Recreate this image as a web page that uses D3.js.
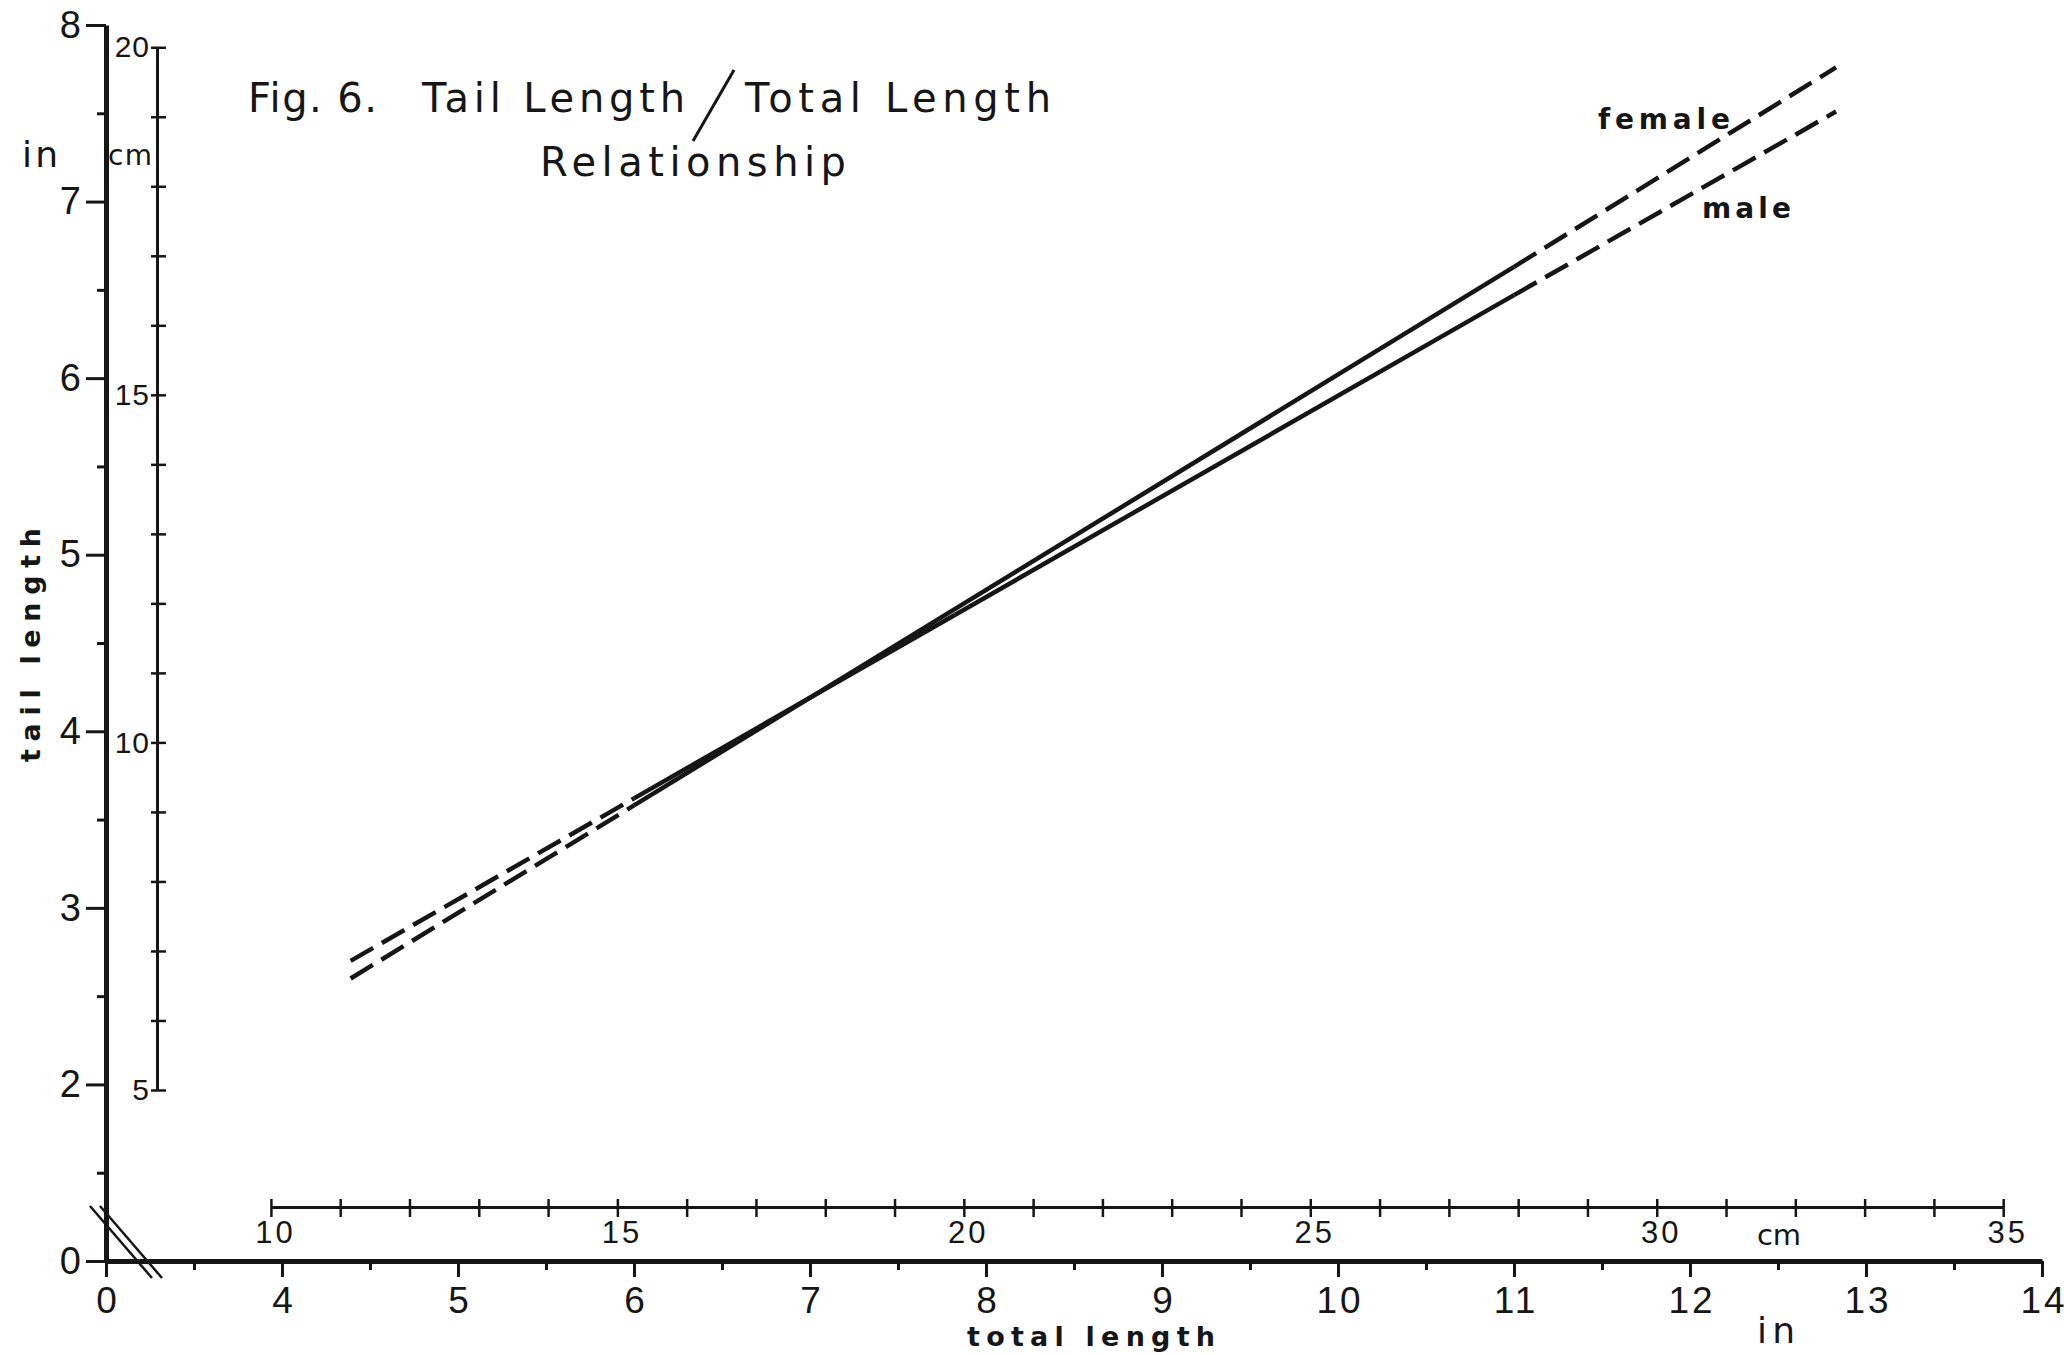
<!DOCTYPE html>
<html><head><meta charset="utf-8">
<script src="https://cdn.jsdelivr.net/npm/d3@7"></script>
<style>
html,body{margin:0;padding:0;background:#fff;}
svg{display:block;background:#fff;}
</style></head><body>
<svg id="chart" width="2067" height="1355"></svg>
<script>
// ---------------- data (inches / cm) ----------------
const totalLengthIn = [4.39, 6.0, 11.0, 12.83];
const femaleTailIn  = [2.60, 3.58, 6.63, 7.76];
const maleTailIn    = [2.70, 3.62, 6.47, 7.51];
const segmentStyles = ["dashed", "solid", "dashed"];

const xInchTicks  = [3, 4, 5, 6, 7, 8, 9, 10, 11, 12, 13, 14];
const xInchLabels = ["0", "4", "5", "6", "7", "8", "9", "10", "11", "12", "13", "14"];
const xInchMinor  = [3.5, 4.5, 5.5, 6.5, 7.5, 8.5, 9.5, 10.5, 11.5, 12.5, 13.5];
const yInchTicks  = [1, 2, 3, 4, 5, 6, 7, 8];
const yInchLabels = ["0", "2", "3", "4", "5", "6", "7", "8"];
const yInchMinor  = [1.5, 2.5, 3.5, 4.5, 5.5, 6.5, 7.5];
const xCmTicks  = [10,11,12,13,14,15,16,17,18,19,20,21,22,23,24,25,26,27,28,29,30,31,32,33,34,35];
const xCmLabels = [10, 15, 20, 25, 30, 35];
const yCmTicks  = [5,6,7,8,9,10,11,12,13,14,15,16,17,18,19,20];
const yCmLabels = [5, 10, 15, 20];

const titleLine1 = ["Fig. 6.", "Tail Length", "Total Length"];
const titleLine2 = "Relationship";

// ---------------- scales ----------------
const CM = 2.54;
const svg = d3.select("#chart");
const ink = "#161616";
const x = d3.scaleLinear().domain([3, 14]).range([106, 2042]);
const y = d3.scaleLinear().domain([1, 8]).range([1261, 25]);
const xcm = d3.scaleLinear().domain([10, 35]).range([x(10 / CM), x(35 / CM)]);
const ycm = d3.scaleLinear().domain([5, 20]).range([y(5 / CM), y(20 / CM)]);
const NUMFONT = "'Liberation Sans',Arial,sans-serif";
const WORDFONT = "'DejaVu Sans','Liberation Sans',sans-serif";

function styleAxis(g, domainW, tickW) {
  g.select(".domain").attr("stroke", ink).attr("stroke-width", domainW);
  g.selectAll(".tick line").attr("stroke", ink).attr("stroke-width", tickW);
}

// ---------------- inch x axis ----------------
const gx = svg.append("g").attr("transform", `translate(0,${y(1)})`)
  .call(d3.axisBottom(x).tickValues(xInchTicks).tickFormat((d, i) => xInchLabels[i])
        .tickSizeInner(16).tickSizeOuter(0).tickPadding(10));
styleAxis(gx, 5, 3);
gx.selectAll(".tick text").attr("font-size", 37).attr("fill", ink)
  .attr("font-family", NUMFONT).attr("letter-spacing", 3).attr("dx", 1.5);

const gxm = svg.append("g").attr("transform", `translate(0,${y(1)})`)
  .call(d3.axisBottom(x).tickValues(xInchMinor).tickFormat("").tickSizeInner(9).tickSizeOuter(0));
gxm.select(".domain").remove();
styleAxis(gxm, 0, 3);

// ---------------- inch y axis ----------------
const gy = svg.append("g").attr("transform", `translate(${x(3)},0)`)
  .call(d3.axisLeft(y).tickValues(yInchTicks).tickFormat((d, i) => yInchLabels[i])
        .tickSizeInner(20).tickSizeOuter(0).tickPadding(5));
styleAxis(gy, 5, 3);
gy.selectAll(".tick text").attr("font-size", 38).attr("fill", ink).attr("font-family", NUMFONT);

const gym = svg.append("g").attr("transform", `translate(${x(3)},0)`)
  .call(d3.axisLeft(y).tickValues(yInchMinor).tickFormat("").tickSizeInner(9).tickSizeOuter(0));
gym.select(".domain").remove();
styleAxis(gym, 0, 3);

// ---------------- cm x axis ----------------
const gxc = svg.append("g").attr("transform", "translate(0,1207)")
  .call(d3.axisBottom(xcm).tickValues(xCmTicks)
        .tickFormat(d => xCmLabels.includes(d) ? d : "")
        .tickSizeInner(10).tickSizeOuter(0).tickPadding(4));
styleAxis(gxc, 3, 2.5);
gxc.selectAll(".tick line").attr("y1", -8);
gxc.selectAll(".tick text").attr("font-size", 31).attr("fill", ink)
  .attr("font-family", NUMFONT).attr("letter-spacing", 3).attr("dx", 4);

// ---------------- cm y axis ----------------
const gyc = svg.append("g").attr("transform", "translate(157,0)")
  .call(d3.axisLeft(ycm).tickValues(yCmTicks)
        .tickFormat(d => yCmLabels.includes(d) ? d : "")
        .tickSizeInner(6).tickSizeOuter(0).tickPadding(1));
styleAxis(gyc, 3, 2.5);
gyc.selectAll(".tick line").attr("x1", 9);
gyc.selectAll(".tick text").attr("font-size", 30).attr("fill", ink)
  .attr("font-family", NUMFONT).attr("letter-spacing", 1);

// ---------------- axis break marks ----------------
const ox = x(3), oy = y(1);
[0, 10].forEach(dx => {
  svg.append("line")
    .attr("x1", ox - 16 + dx).attr("y1", oy - 55)
    .attr("x2", ox + 46 + dx).attr("y2", oy + 17)
    .attr("stroke", ink).attr("stroke-width", 2.5);
});

// ---------------- regression lines ----------------
const line = d3.line().x(d => x(d[0])).y(d => y(d[1]));
function drawSeries(vals) {
  segmentStyles.forEach((st, i) => {
    const pts = [[totalLengthIn[i], vals[i]], [totalLengthIn[i + 1], vals[i + 1]]];
    svg.append("path").attr("d", line(pts))
      .attr("fill", "none").attr("stroke", ink).attr("stroke-width", 4.5)
      .attr("stroke-dasharray", st === "dashed" ? "26 10" : null);
  });
}
drawSeries(femaleTailIn);
drawSeries(maleTailIn);

// ---------------- text ----------------
function txt(s, px, py, size, opts = {}) {
  const t = svg.append("text").attr("x", px).attr("y", py).attr("font-size", size).text(s)
    .attr("fill", ink).attr("font-family", opts.font || WORDFONT);
  if (opts.weight) t.attr("font-weight", opts.weight);
  if (opts.len) t.attr("textLength", opts.len).attr("lengthAdjust", "spacing");
  if (opts.anchor) t.attr("text-anchor", opts.anchor);
  if (opts.rotate) t.attr("transform", `rotate(${opts.rotate},${px},${py})`);
  return t;
}
// title
txt(titleLine1[0], 248, 112, 40, {len: 129});
txt(titleLine1[1], 422, 112, 40, {len: 263});
txt(titleLine1[2], 745, 112, 40, {len: 306});
txt(titleLine2, 540, 176, 40, {len: 306});
svg.append("line").attr("x1", 734).attr("y1", 70).attr("x2", 693).attr("y2", 141)
  .attr("stroke", ink).attr("stroke-width", 3);

// series labels
txt("female", 1598, 129, 28, {weight: "bold", len: 132});
txt("male", 1702, 218, 28, {weight: "bold", len: 89});

// axis titles & units
txt("tail length", 40, 762, 27, {weight: "bold", len: 234, rotate: -90});
txt("total length", 967, 1346, 27, {weight: "bold", len: 248});
txt("in", 22, 167, 36, {len: 36});
txt("cm", 108, 165, 28, {len: 44});
txt("in", 1757, 1343, 36, {len: 38});
txt("cm", 1757, 1245, 29, {len: 44});
</script>
</body></html>
